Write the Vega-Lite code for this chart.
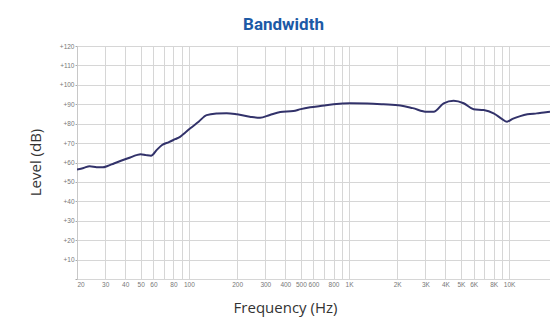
{
  "$schema": "https://vega.github.io/schema/vega-lite/v6.json",
  "width": 473,
  "height": 233,
  "autosize": {"type": "none"},
  "padding": {"left": 77, "top": 46, "right": 0, "bottom": 41},
  "background": "white",
  "title": {"text": "Bandwidth", "fontSize": 17, "font": "Roboto", "fontWeight": "bold", "color": "#1c5aa6", "anchor": "middle", "frame": "group", "dx": -30, "offset": 9},
  "config": {"view": {"stroke": null}},
  "data": {"values": [
    {"freq": 20, "level": 56.4}, {"freq": 22, "level": 57.2}, {"freq": 24, "level": 58.1}, {"freq": 26.5, "level": 57.6},
    {"freq": 29, "level": 57.5}, {"freq": 31, "level": 58.2}, {"freq": 34, "level": 59.5}, {"freq": 38, "level": 61},
    {"freq": 43, "level": 62.6}, {"freq": 47, "level": 63.8}, {"freq": 50, "level": 64.3}, {"freq": 54, "level": 63.8},
    {"freq": 58, "level": 63.5}, {"freq": 63, "level": 66.5}, {"freq": 68, "level": 69}, {"freq": 75, "level": 70.5},
    {"freq": 82, "level": 72}, {"freq": 88, "level": 73.2}, {"freq": 95, "level": 75.5}, {"freq": 102, "level": 77.6},
    {"freq": 115, "level": 81}, {"freq": 129, "level": 84.4}, {"freq": 150, "level": 85.2}, {"freq": 172, "level": 85.4},
    {"freq": 200, "level": 84.8}, {"freq": 240, "level": 83.6}, {"freq": 278, "level": 83}, {"freq": 320, "level": 84.5},
    {"freq": 372, "level": 86}, {"freq": 449, "level": 86.5}, {"freq": 500, "level": 87.5}, {"freq": 572, "level": 88.4},
    {"freq": 661, "level": 89.1}, {"freq": 800, "level": 90}, {"freq": 1018, "level": 90.5}, {"freq": 1300, "level": 90.4},
    {"freq": 1640, "level": 90}, {"freq": 2094, "level": 89.4}, {"freq": 2500, "level": 88}, {"freq": 3060, "level": 86.1},
    {"freq": 3380, "level": 86.1}, {"freq": 3900, "level": 90.5}, {"freq": 4500, "level": 91.8}, {"freq": 5200, "level": 90.5},
    {"freq": 6000, "level": 87.4}, {"freq": 6940, "level": 87}, {"freq": 8000, "level": 85.3}, {"freq": 9000, "level": 82.5},
    {"freq": 9700, "level": 81}, {"freq": 10500, "level": 82.5}, {"freq": 11740, "level": 83.9}, {"freq": 13000, "level": 84.8},
    {"freq": 14900, "level": 85.3}, {"freq": 16500, "level": 85.7}, {"freq": 18000, "level": 86.1}
  ]},
  "mark": {"type": "line", "color": "#32326a", "strokeWidth": 2, "interpolate": "monotone", "clip": true},
  "encoding": {
    "x": {
      "field": "freq", "type": "quantitative",
      "scale": {"type": "log", "domain": [20, 18000], "nice": false},
      "axis": {
        "values": [20, 30, 40, 50, 60, 70, 80, 90, 100, 200, 300, 400, 500, 600, 700, 800, 900, 1000, 2000, 3000, 4000, 5000, 6000, 7000, 8000, 9000, 10000],
        "labelExpr": "indexof([70, 90, 700, 900, 7000, 9000], datum.value) >= 0 ? '' : (datum.value >= 1000 ? (datum.value / 1000) + 'K' : datum.value)",
        "grid": true, "gridColor": "#d6d6d6", "domain": false, "ticks": false,
        "labelFontSize": 6.5, "labelColor": "#777", "labelPadding": 2, "labelFont": "Liberation Sans", "labelOverlap": false,
        "title": "Frequency (Hz)", "titleFont": "Open Sans", "titleFontWeight": "normal", "titleFontSize": 15, "titleColor": "#333",
        "titleX": 208, "titleY": 28, "titleBaseline": "middle", "titleAlign": "center"
      }
    },
    "y": {
      "field": "level", "type": "quantitative",
      "scale": {"domain": [0, 120], "nice": false, "zero": false},
      "axis": {
        "values": [0, 10, 20, 30, 40, 50, 60, 70, 80, 90, 100, 110, 120],
        "labelExpr": "datum.value == 0 ? '' : '+' + datum.value",
        "grid": true, "gridColor": "#d6d6d6", "domain": true, "domainColor": "#c8c8c8",
        "ticks": true, "tickSize": 2, "tickColor": "#aaa",
        "labelFontSize": 6.5, "labelColor": "#777", "labelPadding": 1, "labelFont": "Liberation Sans",
        "title": "Level (dB)", "titleFont": "Open Sans", "titleFontWeight": "normal", "titleFontSize": 15, "titleColor": "#333",
        "titleAngle": -90, "titleX": -42, "titleY": 116, "titleBaseline": "middle", "titleAlign": "center"
      }
    }
  }
}
